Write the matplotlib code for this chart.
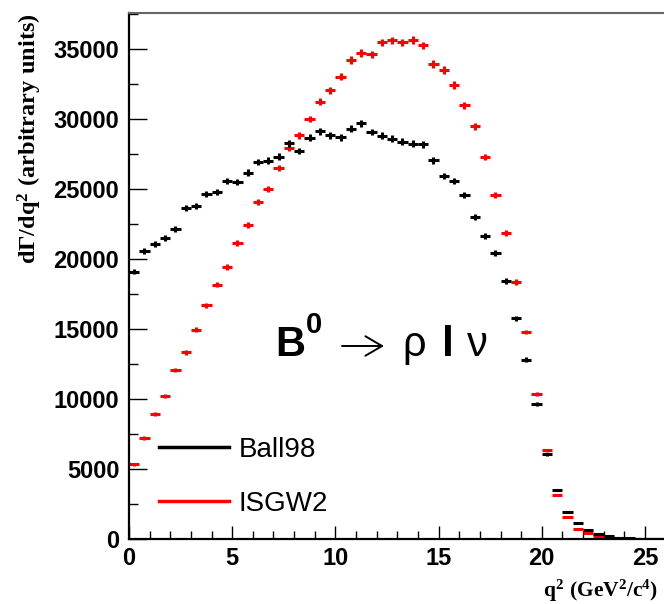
import numpy as np
import matplotlib
matplotlib.use("Agg")
import matplotlib.pyplot as plt
from matplotlib.lines import Line2D
from matplotlib.ticker import MultipleLocator

plt.rcParams["font.family"] = "Liberation Sans"
plt.rcParams["font.weight"] = "bold"
plt.rcParams["mathtext.fontset"] = "custom"
plt.rcParams["mathtext.rm"] = "Liberation Serif:bold"
plt.rcParams["mathtext.bf"] = "Liberation Serif:bold"
plt.rcParams["mathtext.it"] = "Liberation Serif:bold"

# histogram binning in q^2 (GeV^2/c^4)
bin_width = 0.5
n_bins = 52

# dGamma/dq^2 per bin
ball98 = [19090, 20570, 21050, 21500, 22120, 23640, 23810, 24620, 24790, 25570,
          25520, 26170, 26930, 27020, 27310, 28260, 27710, 28670, 29120, 28830,
          28690, 29310, 29690, 29080, 28800, 28590, 28380, 28230, 28180, 27050,
          25950, 25550, 24600, 23000, 21640, 20410, 18440, 15760, 12810, 9620,
          6050, 3480, 1950, 1120, 670, 360, 210, 100, 50, 20, 10, 5]
isgw2 = [5330, 7220, 8930, 10240, 12070, 13330, 14950, 16710, 18170, 19420,
         21120, 22400, 24070, 25000, 26480, 27950, 28830, 30000, 31230, 32050,
         33020, 34210, 34710, 34620, 35480, 35610, 35480, 35640, 35260, 33930,
         33500, 32430, 30980, 29480, 27290, 24570, 21860, 18360, 14790, 10360,
         6330, 3170, 1550, 740, 450, 210, 110, 50, 30, 20, 15, 10]
labels = ["Ball98", "ISGW2"]
colors = ["black", "red"]

edges = np.arange(n_bins + 1) * bin_width
centers = 0.5 * (edges[:-1] + edges[1:])

fig = plt.figure(figsize=(6.64, 6.04), dpi=100)
ax = fig.add_axes([0.1943, 0.1076, 0.8057, 0.8704])

# ISGW2 underneath, Ball98 on top
for vals, col, z in [(isgw2, "red", 2), (ball98, "black", 3)]:
    v = np.array(vals, dtype=float)
    ax.errorbar(centers, v, xerr=bin_width / 2, yerr=1.4 * np.sqrt(v),
                fmt="none", ecolor=col, elinewidth=2.2, capsize=0, zorder=z)

ax.set_xlim(0, 25.92)
ax.set_ylim(0, 37550)

ax.xaxis.set_major_locator(MultipleLocator(5))
ax.xaxis.set_minor_locator(MultipleLocator(1))
ax.yaxis.set_major_locator(MultipleLocator(5000))
ax.yaxis.set_minor_locator(MultipleLocator(2500))
ax.tick_params(axis="both", labelsize=17)
ax.tick_params(axis="y", which="major", direction="in", length=13, width=1, pad=7)
ax.tick_params(axis="y", which="minor", direction="in", length=6.5, width=1)
ax.tick_params(axis="x", which="major", direction="in", length=9.5, width=1, pad=6)
ax.tick_params(axis="x", which="minor", direction="in", length=5.8, width=1)

for s in ["left", "bottom"]:
    ax.spines[s].set_linewidth(1.6)
ax.spines["top"].set_color("#666666")
ax.spines["top"].set_linewidth(1.5)
ax.spines["right"].set_visible(False)

ax.set_xlabel(r"$\mathbf{q^{2}\ (GeV^{2}/c^{4})}$", fontsize=15.5, ha="right", va="top")
ax.xaxis.set_label_coords(0.99, -0.074)
ax.set_ylabel(r"$\mathbf{d\Gamma/dq^{2}\ (arbitrary\ units)}$", fontsize=17.5,
              ha="right", va="bottom")
ax.yaxis.set_label_coords(-0.158, 1.0)

# "B0 -> rho l nu" label, built from pieces placed in figure pixels
def fpos(x, y):
    return (x / 664, 1 - y / 604)

fig.text(*fpos(275, 356), "B", fontsize=30, fontweight="bold", va="baseline")
fig.text(*fpos(306, 333), "0", fontsize=21, fontweight="bold", va="baseline")
ax.annotate("", xy=fpos(384, 346), xytext=fpos(342, 346),
            xycoords="figure fraction", textcoords="figure fraction",
            arrowprops=dict(arrowstyle="->, head_length=0.6, head_width=0.35",
                            lw=1.4, color="black", mutation_scale=20,
                            shrinkA=0, shrinkB=0))
fig.text(*fpos(402, 356), "\u03c1", fontsize=30, fontweight="normal", va="baseline")
fig.text(*fpos(442, 356), "l", fontsize=31, fontweight="bold", va="baseline")
fig.text(*fpos(467, 356), "\u03bd", fontsize=30, fontweight="normal", va="baseline")

handles = [Line2D([], [], color=c, lw=2.5) for c in colors]
ax.legend(handles, labels, loc="center left",
          bbox_to_anchor=(159.3 / 664, 0.2107), bbox_transform=fig.transFigure,
          frameon=False, borderpad=0, borderaxespad=0, handlelength=2.5,
          handletextpad=0.35, labelspacing=1.0,
          prop={"family": "Liberation Sans", "size": 20, "weight": "normal"})

fig.savefig("out.png", dpi=100)
